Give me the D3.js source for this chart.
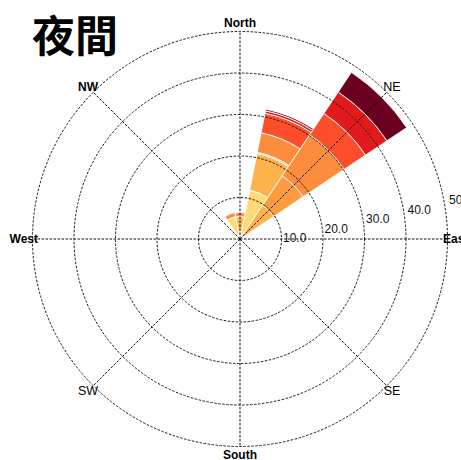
<!DOCTYPE html>
<html>
<head>
<meta charset="utf-8">
<script src="https://cdn.jsdelivr.net/npm/d3@7"></script>
<style>
  html, body { margin: 0; padding: 0; background: #fff; }
  svg { display: block; }
</style>
</head>
<body>
<svg id="chart" width="461" height="460"></svg>
<script>
// ---- data ----
const title = "夜間";
const directions = ["N","NNE","NE","ENE","E","ESE","SE","SSE","S","SSW","SW","WSW","W","WNW","NW","NNW"];
const speedBins = ["b0","b1","b2","b3","b4","b5","b6","b7"];
const binColors = ["#ffeda0","#fed976","#feb24c","#fd9b40","#fd8d3c","#fc4e2a","#e31a1c","#6b0020"];
// frequency (%) per speed bin, one value per direction (N, NNE, NE, ... NNW)
const bin0 = [1.0, 0.5, 0.2, 0,0,0,0,0,0,0,0,0,0,0,0, 1.0];
const bin1 = [1.0, 11.5, 0.3, 0,0,0,0,0,0,0,0,0,0,0,0, 4.5];
const bin2 = [3.4, 9.0, 9.3, 0,0,0,0,0,0,0,0,0,0,0,0, 0];
const bin3 = [0, 0.3, 8.5, 0,0,0,0,0,0,0,0,0,0,0,0, 0];
const bin4 = [1.0, 4.8, 11.9, 0,0,0,0,0,0,0,0,0,0,0,0, 1.0];
const bin5 = [0, 4.8, 6.2, 0,0,0,0,0,0,0,0,0,0,0,0, 0];
const bin6 = [0, 0.6, 6.2, 0,0,0,0,0,0,0,0,0,0,0,0, 0];
const bin7 = [0, 0.4, 5.7, 0,0,0,0,0,0,0,0,0,0,0,0, 0];
const binValues = [bin0, bin1, bin2, bin3, bin4, bin5, bin6, bin7];
const ringTicks = [10, 20, 30, 40, 50];
const ringLabels = ["10.0", "20.0", "30.0", "40.0", "50."];
const compassLabels = ["North","NE","East","SE","South","SW","West","NW"];
const compassAngles = [0, 45, 90, 135, 180, 225, 270, 315];

// ---- layout ----
const svg = d3.select("#chart");
const cx = 240, cy = 239;
const r = d3.scaleLinear().domain([0, 50]).range([0, 207.5]);
const deg = Math.PI / 180;
const sector = 360 / directions.length;

const rows = directions.map((d, i) => {
  const o = { dir: d, i };
  speedBins.forEach((b, k) => o[b] = binValues[k][i]);
  return o;
});
const stacked = d3.stack().keys(speedBins)(rows);
const color = d3.scaleOrdinal().domain(speedBins).range(binColors);

const g = svg.append("g").attr("transform", `translate(${cx},${cy})`);

const arc = d3.arc()
  .innerRadius(d => r(d[0]))
  .outerRadius(d => r(d[1]))
  .startAngle(d => (d.data.i * sector - sector / 2) * deg)
  .endAngle(d => (d.data.i * sector + sector / 2) * deg);

g.append("g").selectAll("g").data(stacked).join("g")
  .attr("fill", s => color(s.key))
  .selectAll("path").data(s => s.filter(d => d[1] - d[0] > 0)).join("path")
  .attr("d", arc)
  .attr("stroke", "#fff")
  .attr("stroke-width", 0.9);

// grid circles
g.append("g").selectAll("circle").data(ringTicks).join("circle")
  .attr("r", d => r(d))
  .attr("fill", "none")
  .attr("stroke", "#1a1a1a")
  .attr("stroke-width", 1)
  .attr("stroke-dasharray", "2.5,1.5");

// spokes
g.append("g").selectAll("line").data(compassAngles).join("line")
  .attr("x1", 0).attr("y1", 0)
  .attr("x2", a => r(50) * Math.sin(a * deg))
  .attr("y2", a => -r(50) * Math.cos(a * deg))
  .attr("stroke", "#111")
  .attr("stroke-width", 1)
  .attr("stroke-dasharray", "2.5,1.5");

// ring labels
g.append("g").selectAll("text").data(ringTicks).join("text")
  .attr("x", d => r(d) + 1.5)
  .attr("y", d => 12.5 - 0.227 * r(d))
  .attr("font-family", "Liberation Sans, Arial, sans-serif")
  .attr("font-size", 12)
  .attr("fill", "#111")
  .text((d, i) => ringLabels[i]);

// compass labels
const lab = g.append("g").attr("font-family", "Liberation Sans, Arial, sans-serif").attr("fill", "#000");
compassLabels.forEach((t, i) => {
  const a = compassAngles[i];
  const bold = (a % 90 === 0) || t === "NW";
  let x, y, anchor = "middle";
  if (a === 0) { x = 0; y = -r(50) - 8.5 + 4.3; }
  else if (a === 180) { x = 0; y = r(50) + 8.5 + 4.3; }
  else if (a === 90) { x = r(50) - 4.5; y = 4.3; anchor = "start"; }
  else if (a === 270) { x = -r(50) + 5.5; y = 4.3; anchor = "end"; }
  else {
    const rr = r(50) + 7.5;
    x = rr * Math.sin(a * deg); y = -rr * Math.cos(a * deg) + 4.3;
  }
  lab.append("text")
    .attr("x", x).attr("y", y)
    .attr("text-anchor", anchor)
    .attr("font-size", bold ? 12 : 12.5)
    .attr("font-weight", bold ? "bold" : "normal")
    .text(t);
});

// title
svg.append("text")
  .attr("x", 32).attr("y", 52)
  .attr("font-family", "Noto Sans CJK TC, Noto Sans CJK JP, sans-serif")
  .attr("font-size", 43)
  .attr("font-weight", "bold")
  .attr("fill", "#000")
  .text(title);
</script>
</body>
</html>
